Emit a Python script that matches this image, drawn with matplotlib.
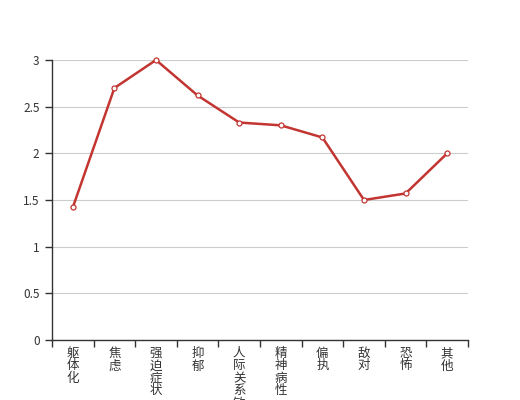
import matplotlib
matplotlib.use("Agg")
import matplotlib.pyplot as plt
import numpy as np

plt.rcParams['font.family'] = ['Noto Sans CJK SC', 'DejaVu Sans']

categories = ["躯体化", "焦虑", "强迫症状", "抑郁", "人际关系敏感", "精神病性", "偏执", "敌对", "恐怖", "其他"]
values = [1.42, 2.70, 3.00, 2.62, 2.33, 2.30, 2.17, 1.50, 1.57, 2.00]
yticks = [0, 0.5, 1, 1.5, 2, 2.5, 3]

fig = plt.figure(figsize=(5.2, 4.0), dpi=100)
ax = fig.add_axes([0.1, 0.15, 0.8, 0.7])

x = np.arange(len(categories))
ax.plot(x, values, color='#c23531', lw=1.8, marker='o', ms=3.6,
        mfc='white', mec='#c23531', mew=0.9, zorder=3, clip_on=False)

ax.set_xlim(-0.5, len(categories) - 0.5)
ax.set_ylim(0, 3)
ax.set_yticks(yticks)
ax.set_yticklabels([f"{v:g}" for v in yticks])
ax.yaxis.grid(True, color='#cccccc', lw=0.8)
ax.set_axisbelow(True)

for s in ['top', 'right']:
    ax.spines[s].set_visible(False)
for s in ['left', 'bottom']:
    ax.spines[s].set_color('#333333')
    ax.spines[s].set_linewidth(1.0)

ax.set_xticks(x)
ax.set_xticklabels(["\n".join(c) for c in categories], va='top', linespacing=0.95)
ax.set_xticks(np.arange(-0.5, len(categories)), minor=True)
ax.tick_params(axis='x', which='major', length=0, pad=5, labelsize=9, labelcolor='#333333')
ax.tick_params(axis='x', which='minor', length=5, color='#333333', width=1)
ax.tick_params(axis='y', length=5, color='#333333', width=1, labelsize=8.5, labelcolor='#333333', pad=4)

fig.savefig("out.png", dpi=100)
